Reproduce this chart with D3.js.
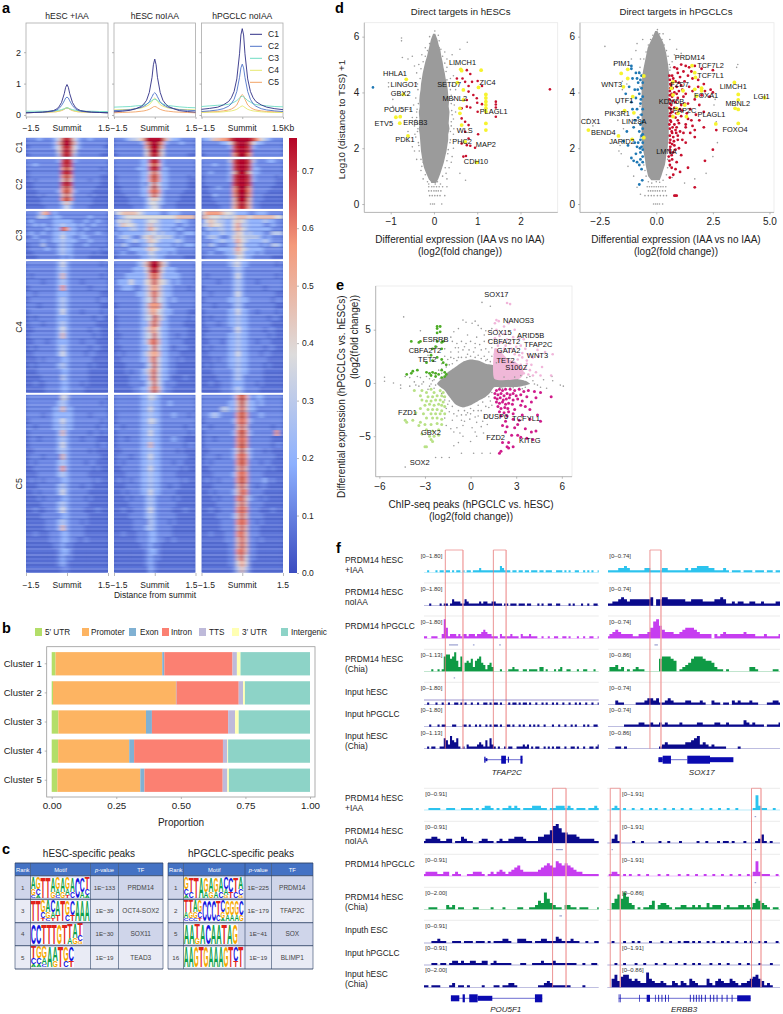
<!DOCTYPE html>
<html><head><meta charset="utf-8"><style>
html,body{margin:0;padding:0;background:#fff}
svg{display:block}
text{font-family:"Liberation Sans",Arial,sans-serif;fill:#222}
.axis path{display:none}
.axis line{stroke:#999;stroke-width:.7}
</style></head><body>
<svg id="c" width="783" height="1014"></svg>
<script src="https://cdn.jsdelivr.net/npm/d3@7/dist/d3.min.js"></script>
<script>
// ---------- panel a: profile curves ----------
const profileX=[-1.5,-1.2,-.9,-.7,-.5,-.4,-.3,-.2,-.1,-.05,0,.05,.1,.2,.3,.4,.5,.7,.9,1.2,1.5];
const clusterNames=["C1","C2","C3","C4","C5"];
const clusterColors=["#2f2f86","#4f74c8","#6fdcc4","#e6e86e","#f2a365"];
const panelTitles=["hESC +IAA","hESC noIAA","hPGCLC noIAA"];
const profIAA=[
[.07,.08,.09,.11,.14,.18,.25,.4,.68,.88,.97,.88,.68,.4,.25,.18,.14,.11,.09,.08,.07],
[.07,.08,.09,.1,.12,.15,.2,.3,.45,.54,.57,.54,.45,.3,.2,.15,.12,.1,.09,.08,.07],
[.12,.12,.12,.12,.13,.14,.15,.17,.2,.22,.23,.22,.2,.17,.15,.14,.13,.12,.12,.11,.11],
[.08,.08,.09,.09,.1,.11,.12,.15,.19,.22,.24,.22,.19,.15,.12,.11,.1,.09,.09,.08,.08],
[.07,.08,.08,.09,.1,.1,.12,.14,.18,.21,.22,.21,.18,.14,.12,.1,.1,.09,.08,.08,.07]];
const profNoIAA=[
[.1,.12,.15,.2,.27,.35,.47,.72,1.2,1.6,1.78,1.6,1.2,.72,.47,.35,.27,.2,.14,.11,.09],
[.14,.15,.17,.2,.24,.28,.33,.42,.58,.67,.71,.67,.58,.42,.33,.28,.24,.2,.17,.15,.14],
[.25,.26,.27,.29,.3,.32,.35,.4,.46,.49,.5,.49,.46,.4,.35,.32,.3,.28,.26,.24,.23],
[.16,.17,.18,.2,.22,.25,.28,.33,.43,.5,.54,.5,.43,.33,.28,.25,.22,.2,.18,.17,.16],
[.07,.08,.09,.1,.12,.13,.15,.18,.23,.26,.27,.26,.23,.18,.15,.13,.12,.1,.09,.08,.07]];
const profPGC=[
[.18,.21,.25,.32,.43,.55,.75,1.15,1.95,2.55,2.75,2.55,1.95,1.15,.75,.55,.43,.32,.25,.2,.17],
[.11,.13,.16,.2,.28,.36,.5,.75,1.2,1.5,1.62,1.5,1.2,.75,.5,.36,.28,.2,.16,.13,.11],
[.27,.29,.31,.32,.34,.37,.41,.46,.54,.58,.6,.58,.54,.46,.41,.36,.33,.31,.29,.27,.26],
[.08,.09,.09,.1,.12,.13,.15,.18,.24,.27,.29,.27,.24,.18,.15,.13,.12,.1,.09,.08,.08],
[.09,.1,.11,.13,.16,.19,.24,.32,.5,.61,.65,.61,.5,.32,.24,.19,.16,.13,.11,.1,.09]];

// ---------- panel a: heatmap rows (digit = signal level, 21 bins) ----------
const heatIAA=[[
"2223222 3589853 2232222","2222222 3699963 2222222","1222222 3589853 2222221","2222222 2589852 2222222","1222222 2489842 2222211"],[
"2222222 2389832 2222222","2232222 2289822 2222222","2222222 2279722 2222212","1222222 2289822 2222222","1222222 2279722 2222211","1212222 2269622 2212211","1122222 2289822 2222211","1122222 2279722 2222111","1112222 2379732 2221111","1112122 2268622 2212111","1111222 2279722 2221111","1111222 2246422 2221111","1111122 2235322 2211111"],[
"2223672 3222222 2222222","2224432 3322222 2232222","2322222 3333322 2322322","2232322 3343332 3223222","2222232 3387332 2322222","2322322 3343332 3222322","1232222 3353322 3322222","2222322 3343332 2232222","1222422 2343322 2322222","1222232 2343322 2222212","1122222 2343322 2221211","1112222 2232322 2211111"],[
"2222222 2353222 2222212","2222222 2343222 2222222","2122222 2363222 2222212","2222122 2343222 1222222","1222222 2373222 2212222","2212222 2333222 2222211","1222222 2343222 2222122","2221222 2343222 2222211","1222222 2353222 1222212","1212222 2333222 2221221","1222122 2343222 2222111","1122222 2353222 2212211","1222222 2363222 2221211","1122212 2333222 1222111","1212222 2343222 2212211","1122222 2353222 2122111","1112122 2233222 2221111","1212222 2343222 2212111","1112222 2233222 2211111","1111222 2243222 2211111","1121122 2233222 1211111","1111122 2233222 2111111"],[
"2222222 2254222 2222222","2222222 2343222 2222212","2222222 3363322 2222222","2222122 3333322 2212222","1222222 3353322 2222212","2212222 3343322 2222122","1222222 2363222 2212212","1221222 2343222 1222111","1222222 2353222 2222122","1122222 2343222 2212111","1222122 2263222 2222211","1212222 2343222 2122111","1122222 2373222 2221211","1112222 2343222 2211111","1212122 2233222 2221211","1112222 2343222 1221111","1121222 2353222 2211111","1112122 2233222 2121111","1111222 2343222 2211111","1121122 2353222 2111211","1111222 2233222 2211111","1111122 2343222 1211111","1111122 2363222 2111111","1121112 2233222 2111111","1111112 2233221 1211111","1111111 2232211 1111111","1111111 1233211 1111111","1111111 1232211 1111111","1111111 1232111 1111111","1111111 1122111 1111111"]];
const heatNoIAA=[[
"2223445 6999996 4332222","2222222 3799973 2223222","2222222 2699962 2222222","2222222 2599952 2222222","1222222 2589852 2222211"],[
"2222222 3389832 2222222","2222222 3379732 2222222","2222223 3389833 2222222","2222222 3368633 2222222","1222222 3379733 2222212","1222222 3379733 2222211","1222222 3258533 2222211","1122222 3369633 2222211","1122222 3378732 2222111","1112222 3368632 2221111","1111222 2356532 2221111","1111222 2355432 2211111","1111122 2345422 2211111"],[
"4566665 4333322 3332222","2345555 5555555 5566666","3545433 3455433 3343322","3465543 3464433 3322322","2333443 3475433 3233222","3233333 3445343 3322333","2344322 4564544 4323222","2223343 3465433 3343222","3243222 3354333 3232333","2222333 3465433 3322222","2232223 3354333 2322222","1222222 3344332 2222111"],[
"2222223 4699964 2222222","2222233 3589853 3322222","2223333 3478743 3332222","2333533 3568654 3232222","2233322 3467643 3222212","2222223 3468643 3222222","2222222 3458543 2322222","1222222 3477743 2222222","2222222 3467543 3222211","1222222 3458643 2222212","1222222 3368633 2222111","1222222 3467533 2222211","1122222 3458533 2212211","1222222 3478633 2222111","1122222 3358533 2122211","1212222 3467633 2221111","1122222 3368533 2212111","1112222 2358533 2211111","1112122 3468533 2211111","1111222 3368533 2111211","1111222 2358532 2211111","1111122 3368632 2111111"],[
"2222222 3354322 2222222","2222222 3343322 3222222","2222222 3353322 2222222","1222222 3343322 2322212","1222222 3354322 2222222","2212222 3343322 2222122","1222222 3353322 2222212","1221222 3343322 2322111","1222222 3363322 2222122","1122222 3343322 2212111","1222122 3353322 2222211","1212222 3343322 2122111","1122222 3353322 2221211","1112222 3343322 2211111","1212122 3343322 2221211","1112222 3343322 1221111","1121222 3353322 2211111","1112122 2343222 2121111","1111222 2343222 2211111","1121122 2353222 2111211","1111222 2343222 2211111","1111122 2243222 1211111","1111122 2343222 2111111","1121112 2233222 2111111","1111112 2233221 1211111","1111111 2232211 1111111","1111111 1233211 1111111","1111111 1232211 1111111","1111111 1232111 1111111","1111111 1132111 1111111"]];
const heatPGC=[[
"3346677 8999998 7543222","2222233 5899985 3322222","2222222 3899983 2222222","2222222 2899982 2222222","1222222 2799972 2222222"],[
"2222222 4899984 2223322","2223222 3899983 2222222","2222222 3899983 3222222","2232222 3699963 3222222","1222222 3899983 2222212","1222222 3899983 2222211","1222222 2899982 2222211","1122322 2799972 2222111","1122222 2799972 2221111","1113222 2799972 2211111","1112222 2699962 2211111","1111222 2689862 2111111","1111122 2689862 2111111"],[
"5777765 5433322 3332222","6655545 4566656 6666655","3565443 3565433 3343322","4465543 3574433 3322322","2343443 3575433 3333222","3233343 3465343 3322444","2344322 3565444 4323222","2223343 3475433 3343222","3243222 3365333 3232443","2222333 3475433 3322222","2232223 3465333 2322222","1222222 3355332 2222111"],[
"2222222 3453322 2222212","2222222 2343222 2222222","2122222 2353222 2222212","2222122 2343222 1222222","1222222 2343222 2212222","2212222 2353222 2222211","1222222 3343322 2222122","2221222 2343222 2222211","1222222 3353322 1222212","1212222 3343322 2221221","1222122 3343322 2222111","1122222 2353322 2212211","1222222 3343322 2221211","1122212 3343322 1222111","1212222 3343322 2212211","1122222 3353322 2122111","1112122 3343322 2221111","1212222 3343322 2212111","1112222 2343322 2211111","1111222 2343222 2211111","1121122 2333222 1211111","1111122 2343222 2111111"],[
"2222222 2379732 3322222","2222222 3369633 2322222","2222244 3368633 2222222","2234322 2279722 2322222","1222222 2378732 2222222","2212222 2268622 2222122","1222222 2379732 2222272","1221222 2278722 2222111","1222222 2279722 2222122","1122222 2369632 2212111","1222122 2378732 2222211","1212222 2279722 2122111","1122222 2268622 2221211","1112222 2378722 2211111","1212122 2279722 2231211","1112222 2268622 1221111","1121222 2368722 2211111","1112122 2278632 2121111","1111222 2268622 2211111","1121122 2278722 2111211","1111222 2368622 2211111","1111122 2278722 1211111","1111122 2268622 2111111","1121112 2278622 2111111","1111112 2268622 1211111","1111111 2268622 1111111","1111111 2278622 1111111","1111111 2268522 1111111","1111111 2257521 1111111","1111111 1246421 1111111"]];
const heatLevels=[.03,.07,.115,.2,.29,.38,.47,.57,.68,.757];
const colorbarTicks=[0,.1,.2,.3,.4,.5,.6,.7];

// ---------- panel b ----------
const barClusters=["Cluster 1","Cluster 2","Cluster 3","Cluster 4","Cluster 5"];
const featureNames=["5′ UTR","Promoter","Exon","Intron","TTS","3′ UTR","Intergenic"];
const featureColors=["#b3de69","#fdb462","#80b1d3","#fb8072","#bebada","#ffffb3","#8dd3c7"];
const featUTR5=[.015,.005,.026,.025,.022];
const featPromoter=[.413,.476,.339,.275,.321];
const featExon=[.008,.002,.023,.019,.016];
const featIntron=[.264,.241,.295,.344,.303];
const featTTS=[.017,.017,.027,.017,.018];
const featUTR3=[.014,.007,.014,.003,.006];
const featIntergenic=[.269,.252,.276,.317,.314];

// ---------- panel c ----------
const tableHeader=["Rank","Motif","p-value","TF"];
const tableLeftRank=["1","3","4","5"];
const tableLeftP=["1E−133","1E−39","1E−30","1E−19"];
const tableLeftTF=["PRDM14","OCT4-SOX2","SOX11","TEAD3"];
const tableRightRank=["1","2","5","16"];
const tableRightP=["1E−225","1E−179","1E−41","1E−19"];
const tableRightTF=["PRDM14","TFAP2C","SOX","BLIMP1"];
const logosLeft=[
["AGC","GCA","T","T","AG","GAC","AG","GAT","AC","C","CA","TCA"],
["T","T","GCT","AGC","CAT","AT","T","GC","CT","A","A","A"],
["C","C","T","T","T","G","T","TA","AG","TCG"],
["TCA","GCA","GAC","A","AG","T","GC","CT"]];
const logosRight=[
["GCA","TC","T","A","GA","AG","GA","AC","CAG","CT","TC","ACG"],
["TAC","TGC","AGC","GCT","C","C","C","TC","CGA","GA","GA","GA","CG"],
["A","A","TG","A","C","A","A","T","A","G"],
["A","A","G","T","G","A","A","A","G","T","CT","T"]];
const letterColor={A:"#0fa14a",C:"#1414e0",G:"#f5a800",T:"#e2231a"};

// ---------- panel d left ----------
const dLCloudY=[6.1,5.9,5.7,5.5,5.3,5.1,4.9,4.7,4.5,4.3,4.1,3.9,3.7,3.5,3.3,3.1,2.9,2.7,2.5,2.3,2.1,1.9,1.7,1.5,1.3,1.1,.9,.75];
const dLCloudL=[-.02,-.07,-.1,-.13,-.16,-.2,-.23,-.26,-.28,-.3,-.31,-.33,-.34,-.33,-.35,-.34,-.33,-.35,-.33,-.32,-.31,-.3,-.28,-.26,-.23,-.18,-.12,-.05];
const dLCloudR=[.03,.08,.11,.15,.17,.2,.22,.25,.27,.3,.32,.33,.35,.34,.36,.35,.34,.36,.33,.33,.31,.29,.26,.23,.19,.15,.1,.05];
const dLGray=[[-.75,5.95],[-.75,5.85],[-.73,5.25],[-.6,5.2],[-.5,5.3],[-.45,4.95],[-.4,4.7],[.12,5.6],[.6,5.55],[.77,5.8],[.42,5.35],[.5,5.0],[.3,5.2],[-1.05,4.35],[-1.05,4.2],[-.95,3.75],[-.95,3.5],[-.6,3.9],[-.55,3.4],[-.5,3.1],[-.45,2.8],[-.6,2.6],[-.6,2.25],[-.5,2.05],[-.45,1.9],[-.4,1.6],[.45,2.5],[.45,2.0],[.5,3.3],[.45,3.75],[.5,4.1],[.45,4.6],[.3,.9],[.35,1.3],[.4,1.5],[-.25,.9],[-.3,1.2],[.73,.85],[.6,1.1],[-.38,4.3],[-.42,3.8],[-.4,3.3],[-.38,2.9],[-.42,2.4],[.38,4.5],[.4,3.9],[.42,3.2],[.4,2.8],[.38,2.3],[.32,1.8],[-.35,5.0],[-.28,5.35],[-.2,5.6],[.25,5.45],[.3,4.9],[-.1,6.0],[.02,6.2],[.1,6.05],[-.25,1.5],[.28,1.1],[-.15,.8],[.15,.72],[-.35,2.1],[.42,1.7],
[-.37,4.1],[-.36,3.6],[-.39,3.4],[-.4,3.1],[-.37,2.7],[-.38,2.6],[-.36,2.2],[-.34,1.9],[-.3,1.6],[-.28,1.35],[-.2,1.05],[-.32,4.5],[-.3,4.85],[-.25,5.1],[-.2,5.3],[-.15,5.5],[-.1,5.75],[.38,4.1],[.4,3.6],[.41,3.35],[.4,2.95],[.38,2.6],[.37,2.2],[.33,1.95],[.3,1.55],[.26,1.3],[.2,1],[.3,4.45],[.28,4.75],[.25,5.05],[.2,5.3],[.16,5.55],[.12,5.85],[-.42,3],[.45,3.05],[-.47,3.55],[.47,3.55],[-.44,2.5],[.46,2.7],[-.41,4.35],[.42,4.25],[-.12,.72],[.08,.8],[-.05,.78],[.03,.72],[-.1,.9],
[-.12,.62],[-.05,.62],[0,.62],[.06,.62],[.12,.62],[.2,.62],[.3,.62],[-.12,.47],[-.06,.47],[0,.47],[.05,.47],[.1,.47],[.16,.47],[-.1,.3],[-.04,.3],[.02,.3],[.08,.3],[.14,.3],[.25,.3],[-.08,0],[-.03,0],[.01,0],[.18,0]];
const dLRed=[[2.68,4.11],[1.43,3.67],[1.43,3.57],[1.43,3.46],[1.43,3.13],[1.11,3.58],[1,3.63],[1.01,3.31],[1.02,2.5],[.76,4.8],[.84,4.66],[.53,4.5],[.66,4.5],[.72,4.38],[.88,4.38],[1.01,4.41],[1.11,4.23],[.8,4.23],[.91,3.91],[.8,4.03],[.99,3.79],[.76,3.73],[.64,3.43],[.76,3.49],[.84,3.46],[.64,3.07],[.72,2.95],[.8,2.83],[.72,2.59],[.8,2.35],[.64,2.17],[.76,2.11],[.84,2.09],[.95,2.02],[.68,1.7],[.74,1.72]];
const dLYellow=[[.62,4.83],[.64,4.78],[1.09,4.8],[.54,4.35],[.68,4.09],[1.03,4.18],[1.2,3.93],[1.2,3.8],[1.2,3.67],[1.2,3.55],[1.2,3.43],[1.2,3.31],[1.2,2.89],[1.2,2.65],[.6,3.43],[.6,3.25],[.68,3.73],[.64,2.83],[.72,2.23],[.99,1.49],[-.64,4.47],[-.71,3.93],[-.88,3.11],[-.78,3.13],[-.79,2.9],[-.6,2.44]];
const dLBlue=[[-1.41,4.18]];
const dLNames=["HHLA1","LINGO1","GBX2","POU5F1","ETV5","ERBB3","PDK1","LIMCH1","SETD7","ZIC4","MBNL2","PLAGL1","WLS","PHC2","MAP2","CDH10"];
const dLNameX=[-.9,-.69,-.77,-.82,-1.16,-.43,-.67,.66,.35,1.24,.48,1.38,.71,.65,1.2,.97];
const dLNameY=[4.58,4.21,3.86,3.29,2.81,2.84,2.23,4.99,4.18,4.26,3.71,3.24,2.56,2.16,2.03,1.45];

// ---------- panel d right ----------
const dRCloudY=[6.2,6,5.8,5.6,5.4,5.2,5,4.8,4.6,4.4,4.2,3.8,3.4,3,2.6,2.4,2.2,2,1.8,1.6,1.4,1.2,1,.85];
const dRCloudL=[-.05,-.15,-.27,-.38,-.43,-.48,-.53,-.58,-.62,-.63,-.65,-.65,-.65,-.65,-.65,-.65,-.62,-.6,-.55,-.5,-.47,-.42,-.36,-.22];
const dRCloudR=[.05,.18,.3,.38,.44,.48,.52,.55,.57,.55,.55,.55,.55,.55,.55,.55,.52,.5,.45,.42,.38,.3,.22,.15];
const dRGray=[[-2.27,5.65],[-1.85,5.0],[-1.65,5.1],[-1.1,5.2],[-.9,5.5],[-.85,5.75],[-.6,5.9],[.05,6.25],[.3,6.1],[.6,5.9],[.9,5.55],[1.1,5.4],[1.4,5.2],[1.0,5.25],[3.55,4.9],[3.6,5.0],[-1.5,4.4],[-1.3,4.3],[-1.5,4.1],[-1.7,3.6],[-1.35,3.7],[-1.5,3.3],[-1.7,3.0],[-3,3.05],[-1.45,2.7],[-2.8,2.8],[-1.6,2.1],[-1.65,1.9],[-1.55,1.8],[-1.25,1.35],[-1.0,1.0],[-.85,.6],[-.7,.35],[2.55,3.55],[2.6,3.75],[2.65,2.95],[2.7,2.2],[2.5,1.7],[2.2,1.1],[1.7,.9],[1.25,.75],[.7,.95],[.6,1.35],[-.72,4.9],[-.7,5.2],[.7,5.1],[.8,5.35],[-.72,3.5],[.62,2.0],[.6,1.8],
[-.68,2.9],[-.7,2.4],[-.62,1.7],[-.55,1.4],[-.5,1.2],[-.45,1],[-.35,.8],[-.2,.75],[0,.8],[.15,.78],[.3,.85],[.45,1.05],[.5,1.3],[-.55,5.2],[-.45,5.45],[-.35,5.7],[-.25,5.9],[-.15,6.05],[.15,6.1],[.25,5.9],[.35,5.7],[.45,5.5],[.52,5.3],[.58,5],[.6,4.8],[-.72,3.2],[-.72,4.2],[-.76,4.75],[.62,4.9],[.5,1.6],
[-.4,.62],[-.3,.62],[-.2,.62],[-.1,.62],[0,.62],[.1,.62],[.2,.62],[.3,.62],[.42,.62],[-.35,.47],[-.25,.47],[-.15,.47],[-.05,.47],[.05,.47],[.15,.47],[.28,.47],[.4,.47],[-.5,.3],[-.35,.3],[-.22,.3],[-.1,.3],[.05,.3],[.18,.3],[.32,.3],[.45,.3],[-.12,0],[-.03,0],[.05,0],[.14,0],[.28,0]];
const dRRed=[[.8,4.9],[1.1,5],[1.3,4.95],[1.45,4.9],[1.7,4.95],[2,4.85],[2.5,4.8],[.95,4.7],[1.2,4.75],[.7,4.6],[1.05,4.55],[1.4,4.6],[1.6,4.5],[.6,4.45],[.85,4.4],[1.25,4.4],[1.85,4.45],[.65,4.25],[.9,4.2],[1.1,4.25],[1.45,4.2],[2.1,4.3],[.6,4.05],[.8,4],[1,4.05],[1.3,3.95],[1.6,4.05],[2.4,4.1],[2.5,4],[.7,3.85],[.95,3.8],[1.2,3.85],[1.7,3.75],[2,3.9],[2.35,3.85],[.6,3.6],[.85,3.65],[1.1,3.55],[1.4,3.6],[1.9,3.55],[.65,3.4],[.9,3.4],[1.15,3.35],[1.5,3.4],[1.75,3.2],[2.1,3.3],[.6,3.15],[.85,3.1],[1.1,3.15],[1.4,3.05],[1.9,3],[.65,2.95],[.8,2.85],[1,2.9],[1.3,2.85],[1.6,2.8],[2.1,2.75],[2.65,2.65],[.6,2.7],[.85,2.65],[1.05,2.6],[1.5,2.55],[1.7,2.4],[.6,2.45],[.75,2.4],[.95,2.3],[1.3,2.2],[.6,2.2],[.8,2.1],[1,2],[2.5,1.95],[.6,1.95],[.75,1.85],[1.1,1.75],[.55,1.7],[.7,1.6],[.9,1.5],[2.15,1.55],[.6,1.4],[.85,1.25],[1.05,1.15],[1.4,1.3],[.75,1.05],[1.7,.6],[.8,.3],[.85,.3],[.9,.3],[.62,3],[.7,3.3],[.58,3.75],[.72,4.15],[.62,4.3],[.75,4.5],[.58,2.85],[.7,2.55],[.78,2.25],[.62,2.05],[.68,1.75],[.58,1.55],[.9,3.95],[1,4.35],[.95,3],[.9,2.75],[.8,3.45],[.66,3.55],[.72,3.7],[1.15,4.1],[1.25,3.6],[1.05,3.4],[.95,2.45],[1.15,2.3],[.85,1.95],[.68,1.3],[.6,.95],[1.35,3.25],[1.55,3],[1.7,2.65],[1.2,2.55],[1.3,2.75],[.6,3.9],[.58,4.6],[.92,4.85],[1.55,4.75],[1.85,4.2],[2.15,4.05],[.62,3.25],[.58,3.45],[.68,2.6],[.62,2.3],[.72,2.75],[.62,1.85],[.7,2.15],[.88,2.55],[.72,3.15],[.88,3.25],[.62,4.15],[.68,3.95],[.72,4.35]];
const dRBlue=[[-1.1,4.95],[-1.1,4.85],[-.9,4.7],[-.75,4.7],[-.65,4.6],[-.85,4.5],[-.7,4.45],[-1.05,4.5],[-.6,4.35],[-.8,4.35],[-1.2,4.2],[-.65,4.15],[-.95,4.1],[-1.35,3.95],[-.75,3.95],[-.6,3.85],[-.9,3.8],[-1.1,3.65],[-.7,3.6],[-.6,3.4],[-.85,3.4],[-1.05,3.4],[-.65,3.2],[-.8,3.1],[-.95,3],[-.6,2.95],[-.7,2.85],[-1,2.75],[-.6,2.7],[-.75,2.6],[-1.3,2.6],[-.6,2.5],[-1.45,2.25],[-1.25,2.1],[-.95,2.2],[-.7,2.3],[-.6,2.2],[-.85,2.05],[-.65,2.05],[-.6,1.95],[-.7,1.85],[-.9,1.8],[-.6,1.7],[-.7,1.6],[-.85,1.5],[-.6,1.5],[-.75,1.4],[-.65,1.25],[-.62,.85],[-.75,.7],[-1,1.55],[-1.1,1.65],[-.65,2.45],[-.8,2.2],[-.72,2.0],[-.82,4.1],[-.68,3.75]];
const dRYellow=[[-1.26,4.83],[-1.55,4.68],[-1.26,4.5],[-.55,4.59],[-1.45,4.2],[-1.04,3.85],[-1.4,3.35],[-.99,3.27],[-3,2.65],[-1.67,2.44],[-1.07,2.32],[-.55,2.38],[1.58,4.96],[1.7,4.71],[1.73,4.54],[.74,4.38],[.67,4.15],[1.18,4.06],[1.7,4.11],[2,4.15],[2,4.06],[.74,3.91],[1.78,3.87],[3.45,4.36],[3.62,3.93],[3.62,3.73],[3.48,3.43],[3.62,3.39],[4.78,3.81],[3.62,2.89],[2.63,2.87],[1.26,3.55],[.89,3.43],[.96,3.25],[.74,3.13],[1.33,3.13]];
const dRNames=["PIM1","PRDM14","TCF7L2","TCF7L1","WNT3","FZD7","LIMCH1","FOXA1","LGI1","UTF1","KDM5B","MBNL2","TFAP2C","PIK3R1","PLAGL1","CDX1","LIN28A","FOXO4","BEND4","JARID2","LMNA"];
const dRNameX=[-1.52,1.48,2.4,2.4,-1.97,1.03,3.4,2.2,4.65,-1.42,.67,3.6,1.15,-1.73,2.44,-2.9,-.98,3.48,-2.34,-1.52,.45];
const dRNameY=[4.94,5.16,4.89,4.51,4.19,4.2,4.12,3.81,3.78,3.61,3.6,3.53,3.25,3.15,3.13,2.88,2.87,2.59,2.46,2.14,1.8];

// ---------- panel e ----------
const eCloudX=[-2.2,-1.8,-1.5,-1,-.5,0,.5,1,1.56,1.56,2.3,3,3.6,3.9,3.2,2.3,1.56,1.3,1,.5,0,-.5,-1,-1.4,-1.7];
const eCloudY=[-.1,.5,1,1.5,2,2.2,2.1,1.8,1.6,.6,.5,.4,.2,-.1,-.35,-.4,-.4,-.9,-1.3,-1.7,-2.1,-2.3,-2,-1.3,-.7];
const ePinkAreaX=[1.56,3.2,3.5,3.3,2.9,2.4,2,1.56];
const ePinkAreaY=[.4,.4,1,1.6,2,2.3,2.9,3.2];
const eGray=[[-4.4,6.2],[-3.3,4.9],[-1.1,4.8],[-.8,5.1],[-.5,5.9],[-.3,5.7],[.1,5.6],[.3,5.8],[.5,5.4],[.7,5.1],[1,4.9],[.75,7.56],[1.3,7.2],[-5.66,.53],[-5.66,.16],[-5.07,0],[-4.6,-.2],[-4.6,-.5],[-4,-.3],[-4,.5],[-4.3,.6],[-3.5,.6],[-3.3,.5],[-2.9,.6],[-3.6,-.2],[-2.7,-.3],[-3.4,-.3],[6.1,-.3],[5.9,-.2],[5.35,.6],[4.8,.3],[5,-.5],[4.4,-.2],[4.1,.2],[4.6,-.4],[5.4,.2],[-4.3,-7.9],[-2.3,-7],[-1.9,-7],[-1.4,-7],[-1.1,-5.9],[-.6,-6.6],[.2,-6.6],[.75,-6.6],[1.3,-6.6],[-.8,-5.6],[-.5,-5],[0,-5.5],[.4,-5],[.85,-4.7],[1.1,-3.9],[-.5,-4],[-.05,-3.4],[.4,-3.7],[-1.2,-3.5],[-.9,-3.1],[-.3,-3],[.2,-2.6],[.7,-2.6],[1.2,-2.3],[1.3,-1.7],[-1.4,-2.7],[-1.3,-4.3],[-1.1,-4.6],[-.9,-4.2],[-.6,-3.5],[-.2,-2.8],[.5,-3.1],[.9,-3.2],[1.3,-3],[.1,-4.2],[.7,-4.1],[-1.5,-2],[-1.8,-1.3],[-2.4,-.5],
[-1.9,1.8],[-1.5,2.2],[-1.3,2.9],[-1,3.3],[-.9,3.7],[-.6,3.9],[-.3,3.7],[0,3.9],[.3,3.7],[.6,3.6],[.9,3.9],[1.2,4],[-1.7,3.2],[-1.2,3.9],[-.8,2.9],[-.5,3.1],[-.2,2.7],[.2,2.9],[.5,2.6],[.9,2.5],[1.2,2.9],[1.4,3.3],[1.1,2.2],[-.8,2.4],[-1.1,2.3],[-1.4,1.7],[-2.1,1.2],[-2.4,.9],[-2,.4],[-2.5,.2],[-2.6,-.1],[-1.3,4.3],[-.2,4.5],[.4,4.3],[.9,4.5],[1.4,5.1],[-1.7,4.2],[-2.2,3.4],[-2.8,2.6],[3.9,.6],[4.2,-.1],[3.3,.7],[3.6,-.4],[3.2,-.5],[2.6,-.5],[2.1,-.5],[1.9,-.45],[-2.3,.7],[-2.7,.4],[-3.1,.1],[-3.2,-.1],[-3.7,.1],[-2.8,-.6],
[-1.9,1.3],[-1.6,1.5],[-1.2,1.8],[-.9,2.1],[-.6,2.4],[-.3,2.4],[0,2.5],[.3,2.4],[.7,2.3],[1,2.1],[1.3,2],[-.1,3.1],[.7,3.1],[1.4,2.5],[1,3.2],[-1.3,2.4],[-1.7,2.5],[-.4,3.4],[.3,3.3],[-.8,3.3],[-2.3,-.2],[-2,-.8],[-1.9,-1],[-1.7,-1.6],[-1.4,-1.7],[-1.2,-2.2],[-.8,-2.6],[-.4,-2.6],[0,-2.4],[.5,-2.1],[.8,-1.8],[1.2,-1.3],[1.4,-.9],[-1.6,-2.4],[-1.1,-2.9],[-.6,-3],[0,-2.9],[.5,-2.6],[1,-2.2],[1.4,-2.1],[-1.7,-3.3],[-.4,-3.6],[.3,-3.2],[.8,-3.6],[-.7,-4.7],[.3,-4.6],[-1.6,-4],[-2.4,.3],[-1.9,.9],[2,-.42],[2.8,-.45],[3.4,-.55],[3.7,.5],[2.9,.55],[2.2,.55],[1.7,1.9]];
const ePink=[[2.4,7.5],[2.6,7.4],[1.7,5.9],[1.85,5.8],[1.6,5.6],[2.2,5.3],[2.5,5.6],[1.7,5],[2.2,4.6],[2.9,5],[1.9,4.4],[1.6,4.2],[2.4,4.1],[2.8,4.3],[3.2,4.2],[3.5,4.1],[2,3.8],[2.6,3.7],[3,3.4],[3.3,3.5],[3.6,3.2],[4.4,3.1],[4.9,2.9],[5.4,2.7],[3.8,2.7],[4.1,2.4],[4.5,2.5],[3.4,2.4],[3.7,2.1],[4.7,1.5],[4,1.7],[3.6,1.4],[4.3,1],[5.3,.7],[4.6,.7],[3.8,.8],[3.5,.9],[1.7,3.1],[2,2.9],[1.6,2.7],[2.9,2.7],[3.2,2.6],[3.1,2.2],[2.9,1.9],[3.3,1.7],[3.3,1.2],[2.2,3.2],[2.5,2.9],[1.8,3.5],[2.3,3.5],[2.7,3.2],[3.4,2.8],[3.7,1.8],[3.9,1.2],[4.1,.7]];
const eMagenta=[[1.7,-.7],[1.9,-.6],[2.1,-.7],[2.3,-.6],[2.6,-.6],[2.9,-.7],[3.2,-.6],[3.5,-.8],[3.8,-.7],[4.2,-.8],[4.6,-.9],[5.3,-1.3],[1.6,-1],[1.8,-1.1],[2,-1],[2.2,-1.2],[2.4,-1],[2.6,-1.1],[2.8,-1],[3,-1.2],[3.3,-1.1],[3.7,-1.3],[4.3,-1.4],[1.6,-1.4],[1.75,-1.5],[1.95,-1.4],[2.15,-1.6],[2.35,-1.5],[2.55,-1.4],[2.8,-1.6],[3.1,-1.5],[3.4,-1.7],[4,-1.8],[1.7,-1.8],[1.9,-1.9],[2.1,-1.8],[2.3,-2],[2.5,-1.9],[2.75,-2],[3.3,-2.1],[3.6,-2.2],[1.8,-2.2],[2,-2.4],[2.25,-2.3],[2.45,-2.4],[2.9,-2.5],[3.9,-2.5],[1.9,-2.7],[2.2,-2.8],[2.5,-2.7],[2.8,-2.9],[3.4,-3],[4.4,-3],[2,-3.1],[2.4,-3.1],[2.8,-3.4],[3.2,-3.5],[3.9,-3.4],[4.6,-3.6],[2.3,-3.6],[2.1,-4],[2.4,-4.1],[2.9,-4.2],[3.1,-3.9],[3.6,-4.3],[4,-4.6],[4.3,-4.5],[2.3,-4.6],[2.7,-4.9],[3.1,-4.9],[3.3,-5.1],[3.7,-5.2],[4.1,-5.3],[2.1,-5.6],[2.5,-5.6],[2.4,-6],[2.5,-6.1],[2.8,-6],[1.9,-6.6],[2,-6.4]];
const eDarkGreen=[[-2.2,5.3],[-2.2,5.1],[-2,5.3],[-2.2,4.7],[-2,4.8],[-3.9,3.9],[-3.3,3.9],[-3.4,3.8],[-2.2,3.9],[-1.9,3.8],[-1.8,3.9],[-2.3,3.4],[-2.5,3.2],[-1.9,3.2],[-2.6,2.6],[-2.2,2.4],[-1.9,2.2],[-2.5,2.1],[-2.9,1.9],[-1.8,1.9],[-1.6,1.7],[-3.9,.9],[-3.8,1.1],[-3.5,1.2],[-4.2,.8],[-2.9,1],[-2.7,.9],[-2.5,1],[-2.3,.9],[-2.1,.8],[-1.9,1.2],[-1.7,1],[-1.6,.8],[-2.6,.7],[-2.3,.6],[-1.9,.5],[-1.7,.6]];
const eLightGreen=[[-2.6,-.6],[-3.2,-.7],[-3.7,-.7],[-2.9,-.9],[-2.4,-.9],[-2,-.7],[-1.8,-.9],[-3.3,-1.2],[-2.8,-1.3],[-2.5,-1.3],[-2.2,-1.2],[-1.9,-1.2],[-1.7,-1.3],[-3.2,-1.6],[-2.9,-1.7],[-2.6,-1.7],[-2.3,-1.6],[-2,-1.6],[-1.8,-1.8],[-3,-2.1],[-2.7,-2],[-2.4,-2.1],[-2.1,-2],[-1.9,-2.1],[-1.7,-2.2],[-3.3,-2.4],[-2.8,-2.5],[-2.5,-2.5],[-2.2,-2.5],[-1.9,-2.6],[-3.6,-2.8],[-3.1,-2.9],[-2.6,-2.9],[-2.3,-2.9],[-2,-2.9],[-1.7,-2.9],[-4.3,-3.5],[-4.2,-3.7],[-3.8,-3.5],[-3.3,-3.7],[-2.9,-3.3],[-2.5,-3.3],[-2.2,-3.3],[-1.9,-3.4],[-3.4,-4],[-3,-3.9],[-2.6,-3.9],[-2.2,-3.8],[-1.9,-3.9],[-2.9,-4.4],[-2.5,-4.5],[-2.1,-4.4],[-3.2,-4.8],[-2.7,-5],[-2.4,-5],[-2.1,-4.9],[-2.6,-5.3],[-2.5,-5.5],[-3,-6],[-2.9,-6]];
const eNames=["SOX17","NANOS3","SOX15","ARID5B","CBFA2T2","TFAP2C","GATA2","TET2","WNT3","S100Z","ESRRB","CBFA2T2","TET2","FZD1","GBX2","SOX2","DUSP6","TCFYL1","FZD2","KITLG"];
const eNameX=[1.7,3.15,1.9,3.95,2.2,4.45,2.5,2.3,4.4,3,-2.3,-3,-2.85,-4.15,-2.6,-3.35,1.65,3.65,1.65,3.9];
const eNameY=[8.1,5.6,4.5,4.2,3.7,3.35,2.85,1.9,2.3,1.2,3.8,2.85,1.95,-3,-4.9,-7.7,-3.35,-3.55,-5.4,-5.6];

// ---------- panel f ----------
const rowLabelsTop=[["PRDM14 hESC","+IAA"],["PRDM14 hESC","noIAA"],["PRDM14 hPGCLC"],["PRDM14 hESC","(Chia)"],["Input hESC"],["Input hPGCLC"],["Input hESC","(Chia)"]];
const rowLabelsBottom=[["PRDM14 hESC","+IAA"],["PRDM14 hESC","noIAA"],["PRDM14 hPGCLC"],["PRDM14 hESC","(Chia)"],["Inputh ESC"],["Input hPGCLC"],["Input hESC","(Chia)"]];
const trackColors=["#2cc3ee","#0a0a8c","#c63df0","#0f9a45","#0a0a8c","#0a0a8c","#0a0a8c"];
const rangesTFAP2C=["[0–1.80]","[0–1.80]","[0–1.80]","[0–1.13]","[0–1.80]","[0–1.80]","[0–1.13]"];
const rangesSOX17=["[0–0.74]","[0–0.74]","[0–0.74]","[0–0.86]","[0–0.74]","[0–0.74]","[0–0.86]"];
const rangesPOU5F1=["[0–0.91]","[0–0.91]","[0–0.91]","[0–2.00]","[0–0.91]","[0–0.91]","[0–2.00]"];
const rangesERBB3=["[0–1.91]","[0–1.91]","[0–1.91]","[0–0.86]","","[0–1.91]","[0–0.86]"];
const tracksTFAP2C=[
"0010001011011010110101101112111111111321110110110110111011011100111010100110010101001",
"0001000010110132221132111112122112211101101110111011000101001100110000101000100100110",
"1100111002951222121221222122343221110211112111021112111001001001100110100010010011001",
"0000100101788679527045462567431342000100011211001101111022010001012001100010011000100",
"0010001001001001101010010010011010110100010110101101001001010010100100100101001001001",
"0001000101100011000110100101001010110100110100101001010100100010010010010100010100110",
"0010110011542643510102111123214152101001011001112120101100101010110010011010010011012"];
const tracksSOX17=[
"111122321111122111122111111212233332211121011101110111011011",
"112234323333333403344333333223333222233431121221122112111122",
"123432222112223589643332234555432222021232222223222111211112",
"022312010121100000677765012346777655421101000000022100000110",
"000211000011123323112321111221112100211011021211121100011221",
"000000111112211211212111121111122111122112111113212111011112",
"000110100000000000123222222334562321211110000100000000000000"];
const tracksPOU5F1=[
"001111001110011110101221010112121011122211011222121011101121",
"122332112201132110012211012112233321111334468975544432222211",
"122221122012100112221012123212345322222345654765654322111111",
"001110002120110001100001000100001100112438532110221101110001",
"000112110011101110111010111221002221101122111321112110010011",
"000110110122121122112201211111000110011121112111111100100110",
"110111000120110100001000110112210000000112321111110000100000"];
const tracksERBB3=[
"0012101001001001010010010010010001001001001001000001721100100",
"00241000010010000010010001000001001000101101000100012410"+"1000",
"0122101010010010001001000100100100100100100100100102721110010",
"0035758632010112402332101122112121131222012111221213543210110",
"0010001001010001000100100101101010010100101001001010010100010",
"0001001000100100010010001001001010001001001000100100010001000",
"0046356643432274322321132132143211142134322432122345643121000"];
const highlightTFAP2C=[[12.2,22.3],[39.7,47]];
const highlightSOX17=[[24.4,30.8]];
const highlightPOU5F1=[[73.6,81.3]];
const highlightERBB3=[[1.7,7.5],[83.5,89]];
const geneLabels=["TFAP2C","SOX17","POU5F1","ERBB3"];
const geneTFAP2C={line:[34.5,56.4],exons:[[34.5,35.2,6],[35.2,36.3,3],[44.2,46.9,8],[48,48.6,6],[55.2,56.4,8]]};
const geneSOX17={line:[29.3,46.1],exons:[[29.3,31.8,5],[31.8,36.6,8],[46.1,59.3,8],[59.3,72.9,5]]};
const genePOU5F1={line:[15.4,67.7],exons:[[15.4,20.2,6],[22.1,23.4,8],[25.9,30.7,8],[30.7,39.1,5],[63.5,67.7,8]]};
const geneERBB3={line:[6.6,83],exons:[[6.6,7,8],[7.3,7.7,8],[18.5,18.9,7],[22.8,24.7,7],[27.6,28,7],[29.5,30,7],[31.4,31.9,7],[33.4,33.9,7],[35.3,35.7,7],[47.8,48.3,7],[49.8,50.3,7],[51.3,51.8,7],[52.9,53.4,7],[54.4,54.9,7],[56.5,57,7],[59.4,59.9,7],[61.4,61.9,7],[63.3,63.8,7],[66.2,66.7,7],[69.1,69.6,7],[72,72.5,7],[75.2,83,6]]};
const marksTFAP2C=[[2,14.3,19.5],[2,28,28.9],[2,43,44],[3,17,17.8]];
const marksSOX17=[[2,27,29]];
const marksPOU5F1=[[1,75.5,79.5],[3,77.5,79]];
const marksERBB3=[[0,85.3,86.2],[1,2.5,3.2],[1,85.3,86.2],[2,85.3,86.2]];
const streakRows=[.10,-.10,.06,-.14,.12,.02,-.08,.14,-.12,.05,-.05,.11,-.1,.02,.13,-.13,.07,-.06,.1,-.11,.04,-.03,.12,-.09,.08,-.14,.03,.1,-.07,.05];

// ===================== drawing =====================
const svg=d3.select("#c");
const font=(sel,size,anchor,extra)=>{sel.attr("font-size",size).attr("text-anchor",anchor||"start");if(extra)sel.attr("font-style",extra);return sel;};
const T=(g,x,y,s,size,anchor,style)=>font(g.append("text").attr("x",x).attr("y",y).text(s),size,anchor,style);
[["a",2,13.2],["b",2,633],["c",2,854],["d",335,13.2],["e",336,290],["f",336,553]].forEach(d=>
  T(svg,d[1],d[2],d[0],14.5,"start").attr("font-weight","bold").style("fill","#000"));
const minusFmt=d=>String(d).replace("-","−");

// panel a
const colX=[[26,108],[114,195.5],[201.5,283]];
const profiles=[profIAA,profNoIAA,profPGC];
const heats=[heatIAA,heatNoIAA,heatPGC];
const clusterBands=[[137.7,156.7],[159.3,209],[211.3,259.3],[261.3,392.7],[394.7,572.7]];
const bins=s=>Array.from(s.replace(/ /g,""),Number);
const coolwarm=d3.scaleLinear().domain([0,.19,.38,.57,.757]).range(["#3b4cc0","#8db0fe","#dddcdc","#f49a7b","#b40426"]);
const defs=svg.append("defs");
defs.append("filter").attr("id","hb").attr("x","-5%").attr("y","-5%").attr("width","110%").attr("height","110%")
  .append("feGaussianBlur").attr("stdDeviation","2 .5");
const streakY=d3.scaleLinear().domain([0,streakRows.length]).range([0,60]);
const pat=defs.append("pattern").attr("id","streak").attr("patternUnits","userSpaceOnUse").attr("width",10).attr("height",60);
streakRows.forEach((v,i)=>pat.append("rect").attr("x",0).attr("y",streakY(i)).attr("width",10).attr("height",2)
  .attr("fill",v>0?"#fff":"#1c2a80").attr("fill-opacity",Math.abs(v)));
const yProf=d3.scaleLinear().domain([-.064,2.93]).range([117,23]);
colX.forEach((cx,p)=>{
  const x=d3.scaleLinear().domain([-1.5,1.5]).range(cx);
  T(svg,(cx[0]+cx[1])/2,19,panelTitles[p],8.6,"middle");
  svg.append("rect").attr("x",cx[0]).attr("y",23).attr("width",cx[1]-cx[0]).attr("height",94).attr("fill","none").attr("stroke","#aaa").attr("stroke-width",.8);
  const line=d3.line().x((d,i)=>x(profileX[i])).y(d=>yProf(d));
  profiles[p].slice().reverse().forEach((vals,i)=>svg.append("path").attr("d",line(vals)).attr("fill","none").attr("stroke",clusterColors[4-i]).attr("stroke-width",.9));
  svg.append("g").attr("class","axis").attr("transform","translate(0,117)").call(d3.axisBottom(x).tickValues([-1.5,0,1.5]).tickSize(2).tickFormat(""));
  const ya=svg.append("g").attr("class","axis").attr("transform",`translate(${cx[0]},0)`).call(d3.axisLeft(yProf).tickValues([0,1,2]).tickSize(2).tickFormat(p==0?d3.format("d"):""));
  ya.selectAll("text").attr("font-size",9).style("fill","#222");
  const lab=[minusFmt(-1.5),"Summit",p==2?"1.5Kb":"1.5"];
  [-1.5,0,1.5].forEach((v,i)=>{
    let X=x(v); if(i==0)X+=5; if(i==2)X-=p==2?0:4;
    T(svg,X,131,lab[i],8.5,"middle");
    T(svg,X,588,i==2?"1.5":lab[i],8.5,"middle");
  });
  const rows=heats[p];
  clusterBands.forEach((b,k)=>{
    const id=`cl${p}${k}`;
    defs.append("clipPath").attr("id",id).append("rect").attr("x",cx[0]).attr("y",b[0]).attr("width",cx[1]-cx[0]).attr("height",b[1]-b[0]);
    const g=svg.append("g").attr("clip-path",`url(#${id})`);
    g.append("rect").attr("x",cx[0]).attr("y",b[0]).attr("width",cx[1]-cx[0]).attr("height",b[1]-b[0]).attr("fill","#4a66c8");
    const inner=g.append("g").attr("filter","url(#hb)");
    const yr=d3.scaleLinear().domain([0,rows[k].length]).range(b);
    rows[k].forEach((s,r)=>{
      const xb=d3.scaleLinear().domain([0,bins(s).length]).range(cx);
      inner.selectAll(null).data(bins(s)).enter().append("rect")
        .attr("x",(d,i)=>xb(i)-.3).attr("y",yr(r)-.2).attr("width",xb(1)-xb(0)+.6).attr("height",yr(1)-yr(0)+.4)
        .attr("fill",d=>coolwarm(heatLevels[d]));
    });
    g.append("rect").attr("x",cx[0]).attr("y",b[0]).attr("width",cx[1]-cx[0]).attr("height",b[1]-b[0]).attr("fill","url(#streak)");
  });
  svg.append("g").attr("class","axis").attr("transform","translate(0,573)").call(d3.axisBottom(x).tickValues([-1.5,0,1.5]).tickSize(3).tickFormat(""));
});
clusterNames.forEach((n,k)=>{
  const b=clusterBands[k],y=(b[0]+b[1])/2;
  T(svg,0,0,n,9,"middle").attr("transform",`translate(22,${y}) rotate(-90)`);
});
T(svg,155,598,"Distance from summit",8.5,"middle");
clusterNames.forEach((n,i)=>{
  const y=34.3+i*12;
  svg.append("line").attr("x1",250).attr("x2",262).attr("y1",y).attr("y2",y).attr("stroke",clusterColors[i]).attr("stroke-width",1);
  T(svg,268,y+3,n,8.5);
});
const grad=defs.append("linearGradient").attr("id","cb").attr("x1",0).attr("x2",0).attr("y1",1).attr("y2",0);
coolwarm.domain().forEach(v=>grad.append("stop").attr("offset",v/.757).attr("stop-color",coolwarm(v)));
const yBar=d3.scaleLinear().domain([0,.757]).range([573,138]);
svg.append("rect").attr("x",289).attr("y",138).attr("width",8).attr("height",435).attr("fill","url(#cb)");
const cb=svg.append("g").attr("class","axis").attr("transform","translate(297,0)").call(d3.axisRight(yBar).tickValues(colorbarTicks).tickSize(2).tickFormat(d3.format(".1f")));
cb.selectAll("text").attr("font-size",8.5).style("fill","#222");

// panel b
featureNames.forEach((n,i)=>{
  const sx=[35,82,129,162,199,232,281],tx=[45,91,140,171,209,242,291];
  svg.append("rect").attr("x",sx[i]).attr("y",628).attr("width",7).attr("height",8).attr("fill",featureColors[i]);
  T(svg,tx[i],635,n,8.2);
});
svg.append("rect").attr("x",46.7).attr("y",646.7).attr("width",268.3).attr("height",150.3).attr("fill","none").attr("stroke","#999").attr("stroke-width",.8);
const xBar=d3.scaleLinear().domain([0,1]).range([51.7,310]);
const yBand=d3.scaleBand().domain(barClusters).range([649.2,794.8]).paddingInner(.2).paddingOuter(.1);
const featRows=barClusters.map((c,i)=>({c,v0:featUTR5[i],v1:featPromoter[i],v2:featExon[i],v3:featIntron[i],v4:featTTS[i],v5:featUTR3[i],v6:featIntergenic[i]}));
const stack=d3.stack().keys(["v0","v1","v2","v3","v4","v5","v6"])(featRows);
stack.forEach((s,i)=>svg.append("g").attr("fill",featureColors[i]).selectAll("rect").data(s).enter().append("rect")
  .attr("x",d=>xBar(d[0])).attr("width",d=>xBar(d[1])-xBar(d[0])).attr("y",d=>yBand(d.data.c)).attr("height",yBand.bandwidth()));
const bx=svg.append("g").attr("class","axis").attr("transform","translate(0,797)").call(d3.axisBottom(xBar).tickValues([0,.25,.5,.75,1]).tickSize(2).tickFormat(d3.format(".2f")));
bx.selectAll("text").attr("font-size",9.8).style("fill","#222");
const by=svg.append("g").attr("class","axis").attr("transform","translate(46.7,0)").call(d3.axisLeft(yBand).tickSize(2));
by.selectAll("text").attr("font-size",9.5).style("fill","#222");
T(svg,181,826,"Proportion",10,"middle");

// panel c
function table(cols,title,tx,ranks,ps,tfs,logos,logoX){
  const rowY=[863,875.7,899.3,922.7,945.7,969];
  T(svg,tx,857,title,10,"middle");
  cols.slice(0,-1).forEach((c,i)=>{
    svg.append("rect").attr("x",c).attr("y",rowY[0]).attr("width",cols[i+1]-c).attr("height",rowY[1]-rowY[0]).attr("fill","#4472c4");
    const t=T(svg,(c+cols[i+1])/2,871.5,"",5.8,"middle").style("fill","#fff");
    if(i==2){t.append("tspan").attr("font-style","italic").text("p").style("fill","#fff");t.append("tspan").text("-value").style("fill","#fff");} else t.text(tableHeader[i]);
    for(let r=0;r<4;r++){
      svg.append("rect").attr("x",c).attr("y",rowY[r+1]).attr("width",cols[i+1]-c).attr("height",rowY[r+2]-rowY[r+1]).attr("fill",r%2?"#e9ebf5":"#cfd5ea");
    }
  });
  for(let r=0;r<4;r++){
    const ym=(rowY[r+1]+rowY[r+2])/2+2.2;
    T(svg,(cols[0]+cols[1])/2,ym,ranks[r],6.2,"middle").style("fill","#444");
    T(svg,(cols[2]+cols[3])/2,ym,ps[r],6.2,"middle").style("fill","#444");
    T(svg,(cols[3]+cols[4])/2,ym,tfs[r],6.5,"middle").style("fill","#444");
    const top=rowY[r+1]+1.7,h=rowY[r+2]-rowY[r+1]-3.4;
    const L=logos[r],cw=logoX[r];
    svg.append("rect").attr("x",cols[1]+.3).attr("y",top).attr("width",cw*L.length).attr("height",h).attr("fill","#fff");
    const xL=d3.scaleLinear().domain([0,L.length]).range([cols[1]+.3,cols[1]+.3+cw*L.length]);
    L.forEach((stackStr,i)=>{
      const wts=stackStr.length==1?[1]:stackStr.length==2?[.7,.3]:[.55,.3,.15];
      let y=top;
      Array.from(stackStr).forEach((ch,j)=>{
        const lh=h*wts[j],fs=10,adv={A:.722,C:.722,G:.778,T:.611}[ch];
        const sx=cw/(adv*fs),sy=lh/(.69*fs);
        svg.append("text").attr("font-size",fs).attr("font-weight","bold").style("fill",letterColor[ch]).text(ch)
          .attr("transform",`translate(${xL(i)},${y+lh}) scale(${sx},${sy})`);
        y+=lh;
      });
    });
  }
  rowY.forEach(y=>svg.append("line").attr("x1",cols[0]).attr("x2",cols[4]).attr("y1",y).attr("y2",y).attr("stroke","#2f4468").attr("stroke-width",.9));
  cols.forEach(c=>svg.append("line").attr("x1",c).attr("x2",c).attr("y1",rowY[0]).attr("y2",rowY[5]).attr("stroke","#2f4468").attr("stroke-width",.6));
}
table([15,30.5,90.5,118.5,163],"hESC-specific peaks",89,tableLeftRank,tableLeftP,tableLeftTF,logosLeft,[4.9,4.9,5.2,5.4]);
table([168,183.5,245,271.5,313],"hPGCLC-specific peaks",241,tableRightRank,tableRightP,tableRightTF,logosRight,[4.95,4.6,5.4,4.95]);

// scatter helpers
function frame(x,y,xTicks,yTicks,xFmt,yFmt,fs){
  const [x0,x1]=x.range(),[y0,y1]=y.range();
  svg.append("rect").attr("x",x0).attr("y",y1).attr("width",x1-x0).attr("height",y0-y1).attr("fill","none").attr("stroke","#e8e8e8").attr("stroke-width",.8);
  svg.append("path").attr("d",`M${x0},${y1}V${y0}H${x1}`).attr("fill","none").attr("stroke","#aaa").attr("stroke-width",.8);
  const a=svg.append("g").attr("class","axis").attr("transform",`translate(0,${y0})`).call(d3.axisBottom(x).tickValues(xTicks).tickSize(2).tickPadding(4).tickFormat(xFmt));
  a.selectAll("text").attr("font-size",fs).style("fill","#222");
  const b=svg.append("g").attr("class","axis").attr("transform",`translate(${x0},0)`).call(d3.axisLeft(y).tickValues(yTicks).tickSize(2).tickFormat(yFmt));
  b.selectAll("text").attr("font-size",fs).style("fill","#222");
}
const dots=(x,y,data,r,c)=>svg.append("g").selectAll("circle").data(data).enter().append("circle")
  .attr("cx",d=>x(d[0])).attr("cy",d=>y(d[1])).attr("r",r).attr("fill",c);
const GRAY="#9b9b9b",RED="#c8102e",BLUE="#1f78b4",YEL="#f6f32e";
const labels=(x,y,names,xs,ys,fs)=>names.forEach((n,i)=>T(svg,x(xs[i]),y(ys[i]),n,fs,"middle").style("fill","#111"));
const cloud=(x,y,Y,L,R)=>svg.append("path").attr("fill",GRAY).attr("d",d3.area().y(d=>y(d)).x0((d,i)=>x(L[i])).x1((d,i)=>x(R[i]))(Y));

// d left
const dy=d3.scaleLinear().domain([-.3,6.5]).range([212.4,22.7]);
const dlx=d3.scaleLinear().domain([-1.61,2.86]).range([364.3,557.7]);
frame(dlx,dy,[-1,0,1,2],[0,2,4,6],minusFmt,d3.format("d"),10);
cloud(dlx,dy,dLCloudY,dLCloudL,dLCloudR);
dots(dlx,dy,dLGray,.8,GRAY);dots(dlx,dy,dLRed,1.3,RED);dots(dlx,dy,dLBlue,1.3,BLUE);dots(dlx,dy,dLYellow,1.9,YEL);
labels(dlx,dy,dLNames,dLNameX,dLNameY,7.4);
T(svg,460.7,15,"Direct targets in hESCs",9.6,"middle");
T(svg,460,243,"Differential expression (IAA vs no IAA)",10,"middle");
T(svg,460,255,"(log2(fold change))",10,"middle");
T(svg,0,0,"Log10 (distance to TSS) +1",9.8,"middle").attr("transform","translate(345,119.5) rotate(-90)");

// d right
const drx=d3.scaleLinear().domain([-3.37,5.2]).range([580,774]);
frame(drx,dy,[-2.5,0,2.5,5],[0,2,4,6],d=>d===0?"0.0":minusFmt(d.toFixed(1)),d3.format("d"),10);
cloud(drx,dy,dRCloudY,dRCloudL,dRCloudR);
dots(drx,dy,dRGray,.8,GRAY);dots(drx,dy,dRRed,1.4,RED);dots(drx,dy,dRBlue,1.4,BLUE);dots(drx,dy,dRYellow,1.9,YEL);
labels(drx,dy,dRNames,dRNameX,dRNameY,7.4);
T(svg,676,15,"Direct targets in hPGCLCs",9.6,"middle");
T(svg,676,243,"Differential expression (IAA vs no IAA)",10,"middle");
T(svg,676,255,"(log2(fold change))",10,"middle");

// e
const ex=d3.scaleLinear().domain([-6.24,6.67]).range([375.7,572]);
const ey=d3.scaleLinear().domain([-8.8,9.1]).range([476.7,286]);
frame(ex,ey,[-6,-3,0,3,6],[-5,0,5],minusFmt,minusFmt,10);
const poly=(xs,ys,c,x,y)=>svg.append("path").attr("fill",c).attr("d",d3.line().x(d=>x(d)).y((d,i)=>y(ys[i])).curve(d3.curveCardinalClosed.tension(.4))(xs));
poly(eCloudX,eCloudY,GRAY,ex,ey);
poly(ePinkAreaX,ePinkAreaY,"#f0b8d8",ex,ey);
dots(ex,ey,eGray,.8,GRAY);
dots(ex,ey,ePink,1.3,"#f1b6da");dots(ex,ey,eMagenta,1.5,"#d01c8b");dots(ex,ey,eDarkGreen,1.4,"#4dac26");dots(ex,ey,eLightGreen,1.5,"#b8e186");
labels(ex,ey,eNames,eNameX,eNameY,7.5);
T(svg,471,508,"ChIP-seq peaks (hPGCLC vs. hESC)",10,"middle");
T(svg,471,520,"(log2(fold change))",10,"middle");
T(svg,0,0,"Differential expression (hPGCLCs vs. hESCs)",10,"middle").attr("transform","translate(345,396.7) rotate(-90)");
T(svg,0,0,"(log2(fold change))",10,"middle").attr("transform","translate(357.5,337) rotate(-90)");

// f
function trackBlock(x0,x1,baselines,seps,labY,labX,ranges,tracks,hl,gene,geneY,geneName,nameX,nameY,marks,boxTop){
  const x=d3.scaleLinear().domain([0,100]).range([x0,x1]);
  seps.forEach(y=>svg.append("line").attr("x1",x0).attr("x2",x1).attr("y1",y).attr("y2",y).attr("stroke","#e2e2e2").attr("stroke-width",.7));
  tracks.forEach((s,t)=>{
    const v=bins(s),b=baselines[t];
    const y=d3.scaleLinear().domain([0,9]).range([b,b-19]);
    const ar=d3.area().x((d,i)=>x(i/(v.length-1)*100)).y0(b).y1(d=>y(d)).curve(d3.curveStep);
    svg.append("path").attr("d",ar(v)).attr("fill",trackColors[t]);
    svg.append("line").attr("x1",x0).attr("x2",x1).attr("y1",b).attr("y2",b).attr("stroke",trackColors[t]).attr("stroke-width",.6).attr("opacity",.55);
    if(ranges[t])T(svg,labX,labY[t]+2,ranges[t],6).style("fill","#333");
  });
  marks.forEach(m=>svg.append("rect").attr("x",x(m[1])).attr("width",x(m[2])-x(m[1])).attr("y",baselines[m[0]]+6).attr("height",1.2).attr("fill","#9aa0d0"));
  hl.forEach(h=>{
    svg.append("line").attr("x1",x(h[0])).attr("x2",x(h[0])).attr("y1",boxTop).attr("y2",baselines[6]).attr("stroke","#e77a7a").attr("stroke-width",.8);
    svg.append("line").attr("x1",x(h[1])).attr("x2",x(h[1])).attr("y1",boxTop).attr("y2",baselines[6]).attr("stroke","#f2a5a5").attr("stroke-width",1.4);
    svg.append("line").attr("x1",x(h[0])).attr("x2",x(h[1])).attr("y1",boxTop).attr("y2",boxTop).attr("stroke","#ec9090").attr("stroke-width",.8);
  });
  svg.append("line").attr("x1",x(gene.line[0])).attr("x2",x(gene.line[1])).attr("y1",geneY).attr("y2",geneY).attr("stroke","#0a0ab0").attr("stroke-width",.6);
  gene.exons.forEach(e=>svg.append("rect").attr("x",x(e[0])).attr("width",Math.max(x(e[1])-x(e[0]),.6)).attr("y",geneY-e[2]/2).attr("height",e[2]).attr("fill","#0a0ab0"));
  T(svg,nameX,nameY,geneName,8,"middle","italic");
}
const blTop=[572.3,605.7,638.3,671.3,704.7,726.7,748.7],sepTop=[583,616,649.3,682.3];
const lyTop=[556,588.7,621.7,654.7,688,710.3,733];
const blBot=[810,843,876,909.3,943,965,987.3],sepBot=[788.3,821.3,854.3,887.3,920.3];
const lyBot=[793.7,826.7,859.7,892.7,925.7,947.7,970.3];
trackBlock(424,598.7,blTop,sepTop,lyTop,420.7,rangesTFAP2C,tracksTFAP2C,highlightTFAP2C,geneTFAP2C,759.7,geneLabels[0],506.7,775,marksTFAP2C,550);
trackBlock(608,780,blTop,sepTop,lyTop,609.3,rangesSOX17,tracksSOX17,highlightSOX17,geneSOX17,759.7,geneLabels[1],701.7,775,marksSOX17,550);
trackBlock(424,598.7,blBot,sepBot,lyBot,425.3,rangesPOU5F1,tracksPOU5F1,highlightPOU5F1,genePOU5F1,998.3,geneLabels[2],505.7,1012,marksPOU5F1,788.3);
trackBlock(607.3,780,blBot,sepBot,lyBot,622,rangesERBB3,tracksERBB3,highlightERBB3,geneERBB3,998.3,geneLabels[3],684,1012,marksERBB3,788.3);
svg.append("line").attr("x1",424).attr("x2",598.7).attr("y1",700).attr("y2",700).attr("stroke","#5a4fb0").attr("stroke-width",.6);
const rowT=[[560,570],[592.7,602.7],[626],[659,669],[692.3],[714.3],[736.7,746.7]];
const rowB=[[798.3,808.3],[831.3,841.3],[864.3],[897.3,907.3],[930.7],[953],[974.7,984.7]];
rowLabelsTop.forEach((l,i)=>l.forEach((s,j)=>T(svg,345,rowT[i][j]+2.5,s,8.4)));
rowLabelsBottom.forEach((l,i)=>l.forEach((s,j)=>T(svg,345,rowB[i][j]+2.5,s,8.4)));
</script>
</body></html>
